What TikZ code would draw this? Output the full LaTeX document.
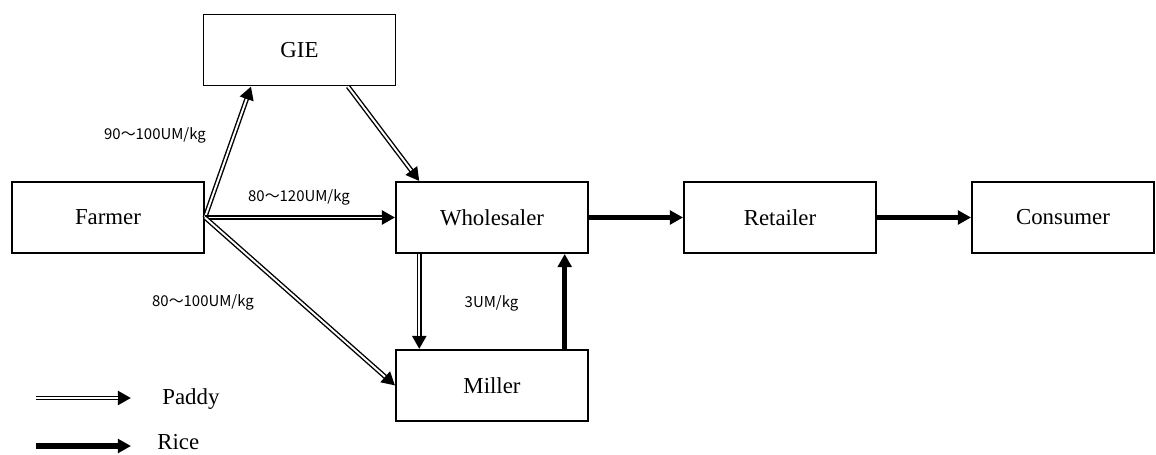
\documentclass[tikz,border=0pt]{standalone}
\usepackage{fontspec}
\setmainfont{Liberation Serif}
\newfontfamily\cjk{Noto Sans CJK JP}
\usetikzlibrary{calc, arrows.meta, positioning}

\begin{document}
\begin{tikzpicture}[x=0.02cm, y=-0.02cm,
    box/.style={draw, line width=1.1pt, minimum width=3.84cm, minimum height=1.42cm,
      inner sep=0pt, font=\fontsize{13}{15}\selectfont},
    paddy/.style={line width=2.7pt, -{Triangle[length=7.5pt,width=7.8pt]},
      postaction={draw=white, line width=1.1pt, -, shorten >=7.6pt}},
    rice/.style={line width=3pt, -{Triangle[length=7.5pt,width=7.8pt]}},
    price/.style={font=\cjk\fontsize{8.5}{10}\selectfont, inner sep=0pt},
    legend/.style={inner sep=0pt, font=\fontsize{13}{15}\selectfont}]
  \useasboundingbox (0,0) rectangle (1156,455);
  % Actors
  \node[box] (GIE) at (299.5,50) {GIE};
  \node[box] (Farmer) at (108,217.5) {Farmer};
  \node[box] (Wholesaler) at (492,217.5) {Wholesaler};
  \node[box] (Retailer) at (780,217.5) {Retailer};
  \node[box, minimum width=3.64cm] (Consumer) at (1063,217.5) {Consumer};
  \node[box] (Miller) at (492,385.5) {Miller};
  % Paddy flows
  \draw[paddy] (Farmer.east) -- ($(GIE.south west)!0.25!(GIE.south east)$);
  \draw[paddy] ($(GIE.south west)!0.75!(GIE.south east)$) -- ($(Wholesaler.north west)!0.125!(Wholesaler.north east)$);
  \draw[paddy] (Farmer.east) -- (Wholesaler.west);
  \draw[paddy] (Farmer.east) -- (Miller.west);
  \draw[paddy] ($(Wholesaler.south west)!0.125!(Wholesaler.south east)$) -- ($(Miller.north west)!0.125!(Miller.north east)$);
  % Rice flows
  \draw[rice] ($(Miller.north west)!0.875!(Miller.north east)$) -- ($(Wholesaler.south west)!0.875!(Wholesaler.south east)$);
  \draw[rice] (Wholesaler.east) -- (Retailer.west);
  \draw[rice] (Retailer.east) -- (Consumer.west);
  % Prices
  \node[price] (p1) at (155,135) {90～100UM/kg};
  \node[price] (p2) at (299,197) {80～120UM/kg};
  \node[price] (p3) at (203,302) {80～100UM/kg};
  \node[price] (p4) at (491.5,303) {3UM/kg};
  % Legend
  \coordinate (pa) at (36,398);
  \coordinate (pb) at (131,398);
  \coordinate (ra) at (36,446);
  \coordinate (rb) at (131,446);
  \draw[paddy] (pa) -- (pb);
  \draw[rice] (ra) -- (rb);
  \node[legend, anchor=base west] (lp) at (162,405) {Paddy};
  \node[legend, anchor=base west] (lr) at (157,450) {Rice};
\end{tikzpicture}
\end{document}
